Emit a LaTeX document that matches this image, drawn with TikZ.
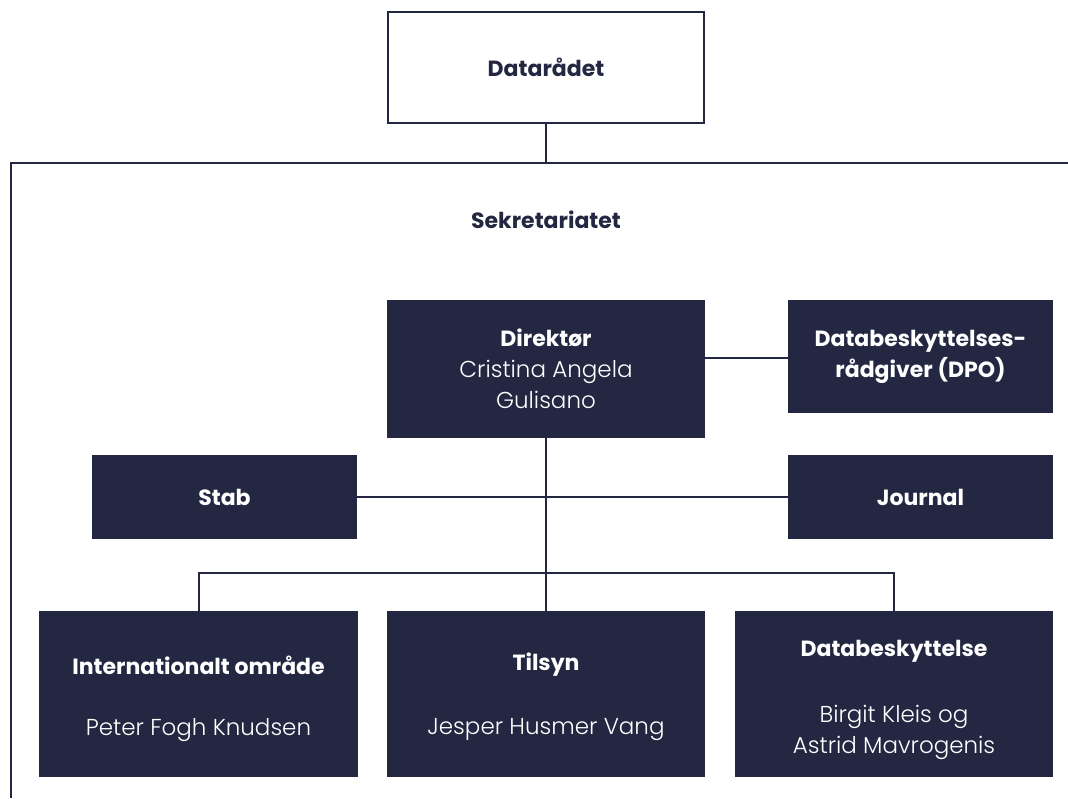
\documentclass[tikz,border=0pt]{standalone}
\usepackage{fontspec}
\setmainfont{Poppins}
\newfontfamily\lightfont{Poppins Light}
\definecolor{navy}{RGB}{35,39,66}
\begin{document}
\begin{tikzpicture}[x=1pt,y=-1pt,
  conn/.style={draw=navy,line width=2pt},
  darkbox/.style={fill=navy,text=white,inner sep=0pt,align=center,font=\fontsize{22}{31}\selectfont},
  whitebox/.style={draw=navy,line width=2pt,fill=white,text=navy,inner sep=0pt,align=center,font=\fontsize{22}{31}\selectfont\bfseries},
  headtext/.style={text=white,font=\fontsize{22}{31}\selectfont\bfseries},
  persontext/.style={text=white,align=center,font=\fontsize{23}{31}\selectfont\lightfont}]
\useasboundingbox (0,0) rectangle (1068,798);
% frame
\coordinate (ftop) at (546,163);
\coordinate (fr) at (1068,163);
\coordinate (fl) at (11,163);
\coordinate (fb) at (11,798);
\draw[conn] (fr) -- (fl) -- (fb);
% nodes
\node[whitebox,minimum width=316pt,minimum height=111pt] (datar) at (546,67.5) {Datarådet};
\node[text=navy,font=\fontsize{22}{31}\selectfont\bfseries] (sek) at (546,220) {Sekretariatet};
\node[darkbox,minimum width=318pt,minimum height=138pt] (dir) at (546,369) {\textbf{Direktør}\\{\fontsize{23}{31}\selectfont\lightfont Cristina Angela}\\{\fontsize{23}{31}\selectfont\lightfont Gulisano}};
\node[darkbox,minimum width=265pt,minimum height=113pt,font=\fontsize{22}{31}\selectfont\bfseries] (dpo) at (920.5,356.5) {Databeskyttelses-\\rådgiver (DPO)};
\node[darkbox,minimum width=265pt,minimum height=84pt] (stab) at (224.5,497) {\textbf{Stab}};
\node[darkbox,minimum width=265pt,minimum height=84pt] (journal) at (920.5,497) {\textbf{Journal}};
\node[darkbox,minimum width=319pt,minimum height=166pt] (b1) at (198.5,694) {};
\node[darkbox,minimum width=318pt,minimum height=166pt] (b2) at (546,694) {};
\node[darkbox,minimum width=318pt,minimum height=166pt] (b3) at (894,694) {};
\node[headtext] (t1) at (198.5,665) {Internationalt område};
\node[persontext] (n1) at (198.5,730) {Peter Fogh Knudsen};
\node[headtext] (t2) at (546,665) {Tilsyn};
\node[persontext] (n2) at (546,730) {Jesper Husmer Vang};
\node[headtext] (t3) at (894,651) {Databeskyttelse};
\node[persontext] (n3) at (894,732) {Birgit Kleis og\\Astrid Mavrogenis};
% connectors
\coordinate (fork) at (546,573);
\draw[conn] (datar.south) -- (ftop);
\draw[conn] (dir.east |- 0,358) -- (dpo.west |- 0,358);
\draw[conn] (stab.east) -- (journal.west);
\draw[conn] (dir.south) -- (fork);
\draw[conn] (fork) -- (b2.north);
\draw[conn] (b1.north) -- (b1.north |- fork) -- (b3.north |- fork) -- (b3.north);
\end{tikzpicture}
\end{document}
